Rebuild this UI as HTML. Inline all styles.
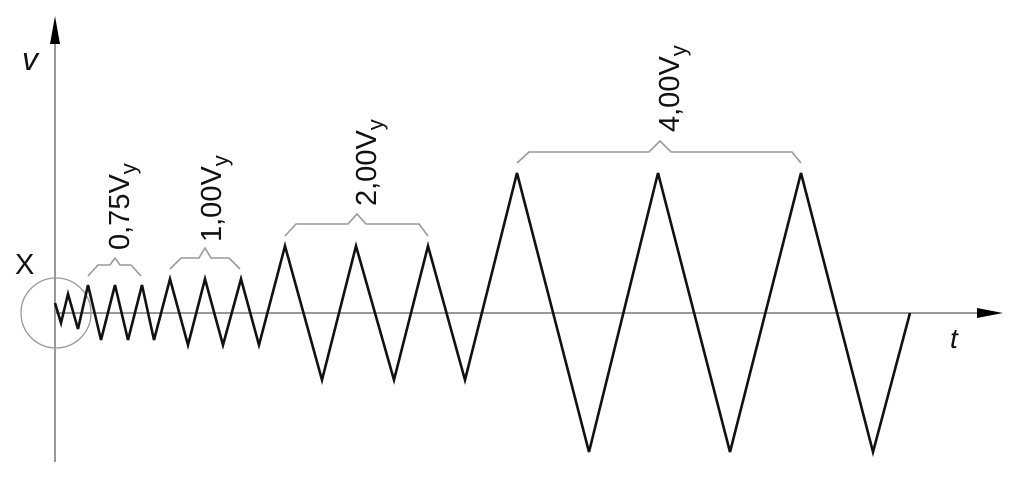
<!DOCTYPE html>
<html><head><meta charset="utf-8"><style>html,body{margin:0;padding:0;background:#fff}svg{display:block}</style></head>
<body>
<svg width="1024" height="485" viewBox="0 0 1024 485" xmlns="http://www.w3.org/2000/svg" font-family="Liberation Sans, sans-serif">
<line x1="55" y1="40" x2="55" y2="462" stroke="#999" stroke-width="2"/>
<polygon points="55,16 50,44 60,44" fill="#000"/>
<line x1="55" y1="313" x2="980" y2="313" stroke="#999" stroke-width="2"/>
<polygon points="1003,313 977,308 977,318" fill="#000"/>
<circle cx="56" cy="313" r="35" fill="none" stroke="#999" stroke-width="1.3"/>
<polyline fill="none" stroke="#111" stroke-width="2.6" stroke-linejoin="miter" points="55,303 61,323 68,294 78,329 88,285 101,340 115,285 128,340 142,285 154,340 170,279 188,345 205,279 223,345 241,279 259,345 285,246 322,380 356,246 394,380 428,246 465,380 517,173 589,452 658,173 730,452 801,173 873,452 910,313"/>
<g fill="none" stroke="#999" stroke-width="1.6">
<polyline points="88,276 98,265 110,265 115,258 120,265 131,265 141,276"/>
<polyline points="170,269 181,258 199,258 205,248 211,258 229,258 240,269"/>
<polyline points="285,236 296,224 348,224 357,214 366,224 419,224 428,236"/>
<polyline points="517,163 529,152 649,152 660,141 671,152 792,152 801,163"/>
</g>
<g font-size="29" fill="#111">
<text transform="translate(129,250) rotate(-90)">0,75V<tspan font-size="22" dy="7">y</tspan></text>
<text transform="translate(221,242) rotate(-90)">1,00V<tspan font-size="22" dy="7">y</tspan></text>
<text transform="translate(376,206) rotate(-90)">2,00V<tspan font-size="22" dy="7">y</tspan></text>
<text transform="translate(679,132) rotate(-90)">4,00V<tspan font-size="22" dy="7">y</tspan></text>
<text x="22" y="70" font-style="italic" font-size="32">v</text>
<text x="15" y="274" font-size="29">X</text>
<text x="950" y="348" font-style="italic" font-size="28">t</text>
</g>
</svg>
</body></html>
